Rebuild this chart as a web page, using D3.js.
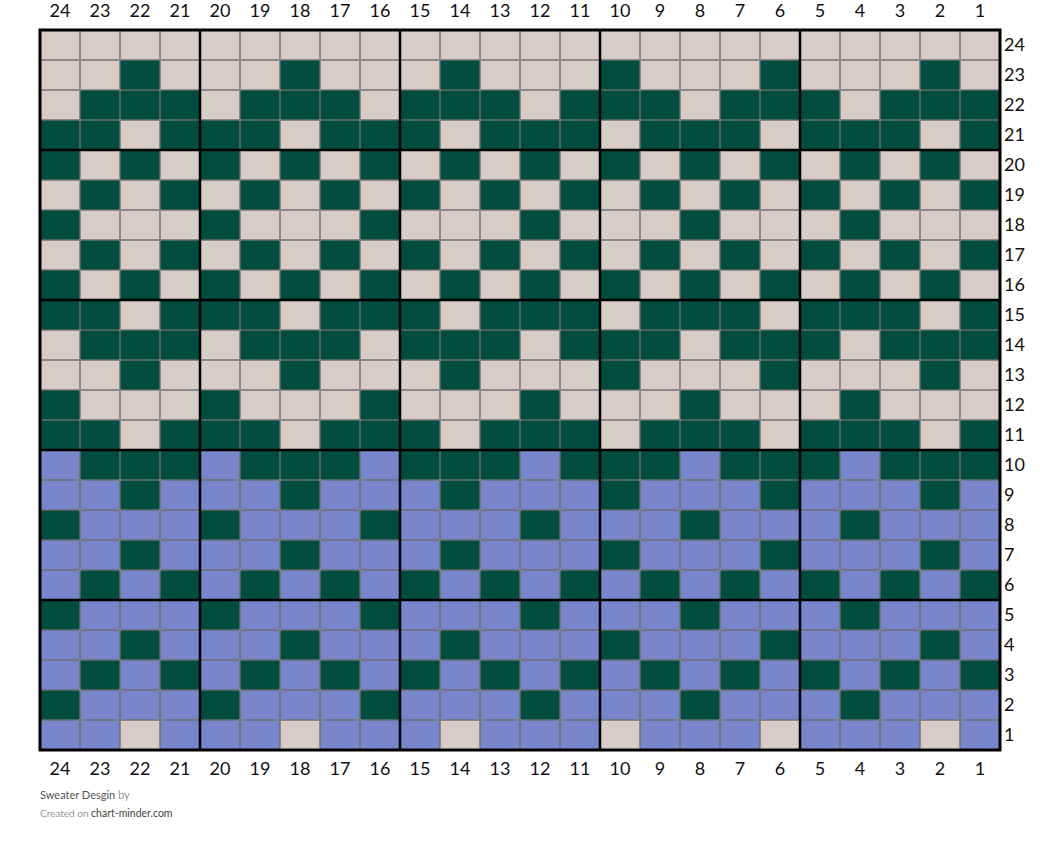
<!DOCTYPE html>
<html>
<head>
<meta charset="utf-8">
<script src="https://cdn.jsdelivr.net/npm/d3@7"></script>
<style>
  html, body { margin: 0; padding: 0; background: #fff; }
  svg { display: block; font-family: Lato, "Open Sans", sans-serif; }
</style>
</head>
<body>
<svg id="chart" width="1040" height="843"></svg>
<script>
// Column labels (left to right) and row labels (top to bottom)
const columns = [24,23,22,21,20,19,18,17,16,15,14,13,12,11,10,9,8,7,6,5,4,3,2,1];
const rowLabels = [24,23,22,21,20,19,18,17,16,15,14,13,12,11,10,9,8,7,6,5,4,3,2,1];

// Stitch colours per row (top row 24 first), one letter per column (col 24 first)
const rowPattern = [
  "BBBBBBBBBBBBBBBBBBBBBBBB", // 24
  "BBGBBBGBBBGBBBGBBBGBBBGB", // 23
  "BGGGBGGGBGGGBGGGBGGGBGGG", // 22
  "GGBGGGBGGGBGGGBGGGBGGGBG", // 21
  "GBGBGBGBGBGBGBGBGBGBGBGB", // 20
  "BGBGBGBGBGBGBGBGBGBGBGBG", // 19
  "GBBBGBBBGBBBGBBBGBBBGBBB", // 18
  "BGBGBGBGBGBGBGBGBGBGBGBG", // 17
  "GBGBGBGBGBGBGBGBGBGBGBGB", // 16
  "GGBGGGBGGGBGGGBGGGBGGGBG", // 15
  "BGGGBGGGBGGGBGGGBGGGBGGG", // 14
  "BBGBBBGBBBGBBBGBBBGBBBGB", // 13
  "GBBBGBBBGBBBGBBBGBBBGBBB", // 12
  "GGBGGGBGGGBGGGBGGGBGGGBG", // 11
  "PGGGPGGGPGGGPGGGPGGGPGGG", // 10
  "PPGPPPGPPPGPPPGPPPGPPPGP", // 9
  "GPPPGPPPGPPPGPPPGPPPGPPP", // 8
  "PPGPPPGPPPGPPPGPPPGPPPGP", // 7
  "PGPGPGPGPGPGPGPGPGPGPGPG", // 6
  "GPPPGPPPGPPPGPPPGPPPGPPP", // 5
  "PPGPPPGPPPGPPPGPPPGPPPGP", // 4
  "PGPGPGPGPGPGPGPGPGPGPGPG", // 3
  "GPPPGPPPGPPPGPPPGPPPGPPP", // 2
  "PPBPPPBPPPBPPPBPPPBPPPBP"  // 1
];

const colorKeys = ["B", "G", "P"];
const colorValues = ["#d7ccc8", "#004d40", "#7986cb"];

// Heavier guide lines (left edge of these columns / top edge of these rows)
const majorCols = [20, 15, 10, 5];
const majorRows = [20, 15, 10, 5];

const titleText = "Sweater Desgin";
const byText = "by";
const createdText = "Created on";
const siteText = "chart-minder.com";

const svg = d3.select("#chart");
const gLeft = 40, gRight = 1000, gTop = 30, gBottom = 750;

const x = d3.scaleBand().domain(columns).range([gLeft, gRight]).padding(0);
const y = d3.scaleBand().domain(rowLabels).range([gTop, gBottom]).padding(0);
const color = d3.scaleOrdinal().domain(colorKeys).range(colorValues);

const cells = [];
rowPattern.forEach((s, ri) => {
  columns.forEach((c, ci) => {
    cells.push({ row: rowLabels[ri], col: c, k: s[ci] });
  });
});

svg.append("g")
  .selectAll("rect")
  .data(cells)
  .join("rect")
  .attr("x", d => x(d.col) + 0.5)
  .attr("y", d => y(d.row) + 0.5)
  .attr("width", x.bandwidth() - 1)
  .attr("height", y.bandwidth() - 1)
  .attr("fill", d => color(d.k))
  .attr("stroke", "rgba(0,0,0,0.4)")
  .attr("stroke-width", 1);

// Major vertical lines
svg.append("g")
  .selectAll("line")
  .data(majorCols)
  .join("line")
  .attr("x1", d => x(d)).attr("x2", d => x(d))
  .attr("y1", gTop).attr("y2", gBottom)
  .attr("stroke", "#000").attr("stroke-width", 2.5);

// Major horizontal lines
svg.append("g")
  .selectAll("line")
  .data(majorRows)
  .join("line")
  .attr("y1", d => y(d)).attr("y2", d => y(d))
  .attr("x1", gLeft).attr("x2", gRight)
  .attr("stroke", "#000").attr("stroke-width", 2.5);

// Outer border
svg.append("rect")
  .attr("x", gLeft).attr("y", gTop)
  .attr("width", gRight - gLeft).attr("height", gBottom - gTop)
  .attr("fill", "none").attr("stroke", "#000").attr("stroke-width", 3);

// Axes
const axTop = svg.append("g").attr("transform", `translate(0,${gTop - 13})`)
  .call(d3.axisTop(x).tickSize(0).tickPadding(0));
const axBottom = svg.append("g").attr("transform", `translate(0,${gBottom + 9})`)
  .call(d3.axisBottom(x).tickSize(0).tickPadding(0));
const axRight = svg.append("g").attr("transform", `translate(${gRight + 4},0)`)
  .call(d3.axisRight(y).tickSize(0).tickPadding(0));

[axTop, axBottom, axRight].forEach(g => {
  g.select(".domain").remove();
  g.selectAll("text")
    .attr("font-family", "Lato, 'Open Sans', sans-serif")
    .attr("font-size", 18)
    .attr("fill", "#111");
});
axTop.selectAll("text").attr("dy", 0);
axBottom.selectAll("text").attr("dy", "0.9em");

// Footer
const t1 = svg.append("text").attr("x", gLeft).attr("y", 799)
  .attr("font-size", 11).attr("font-family", "Lato, sans-serif");
t1.append("tspan").attr("fill", "#555").text(titleText + " ");
t1.append("tspan").attr("fill", "#999").text(byText);

const t2 = svg.append("text").attr("x", gLeft).attr("y", 817)
  .attr("font-family", "Lato, sans-serif");
t2.append("tspan").attr("fill", "#999").attr("font-size", 10).text(createdText + " ");
t2.append("tspan").attr("fill", "#444").attr("font-size", 10.5).text(siteText);
</script>
</body>
</html>
